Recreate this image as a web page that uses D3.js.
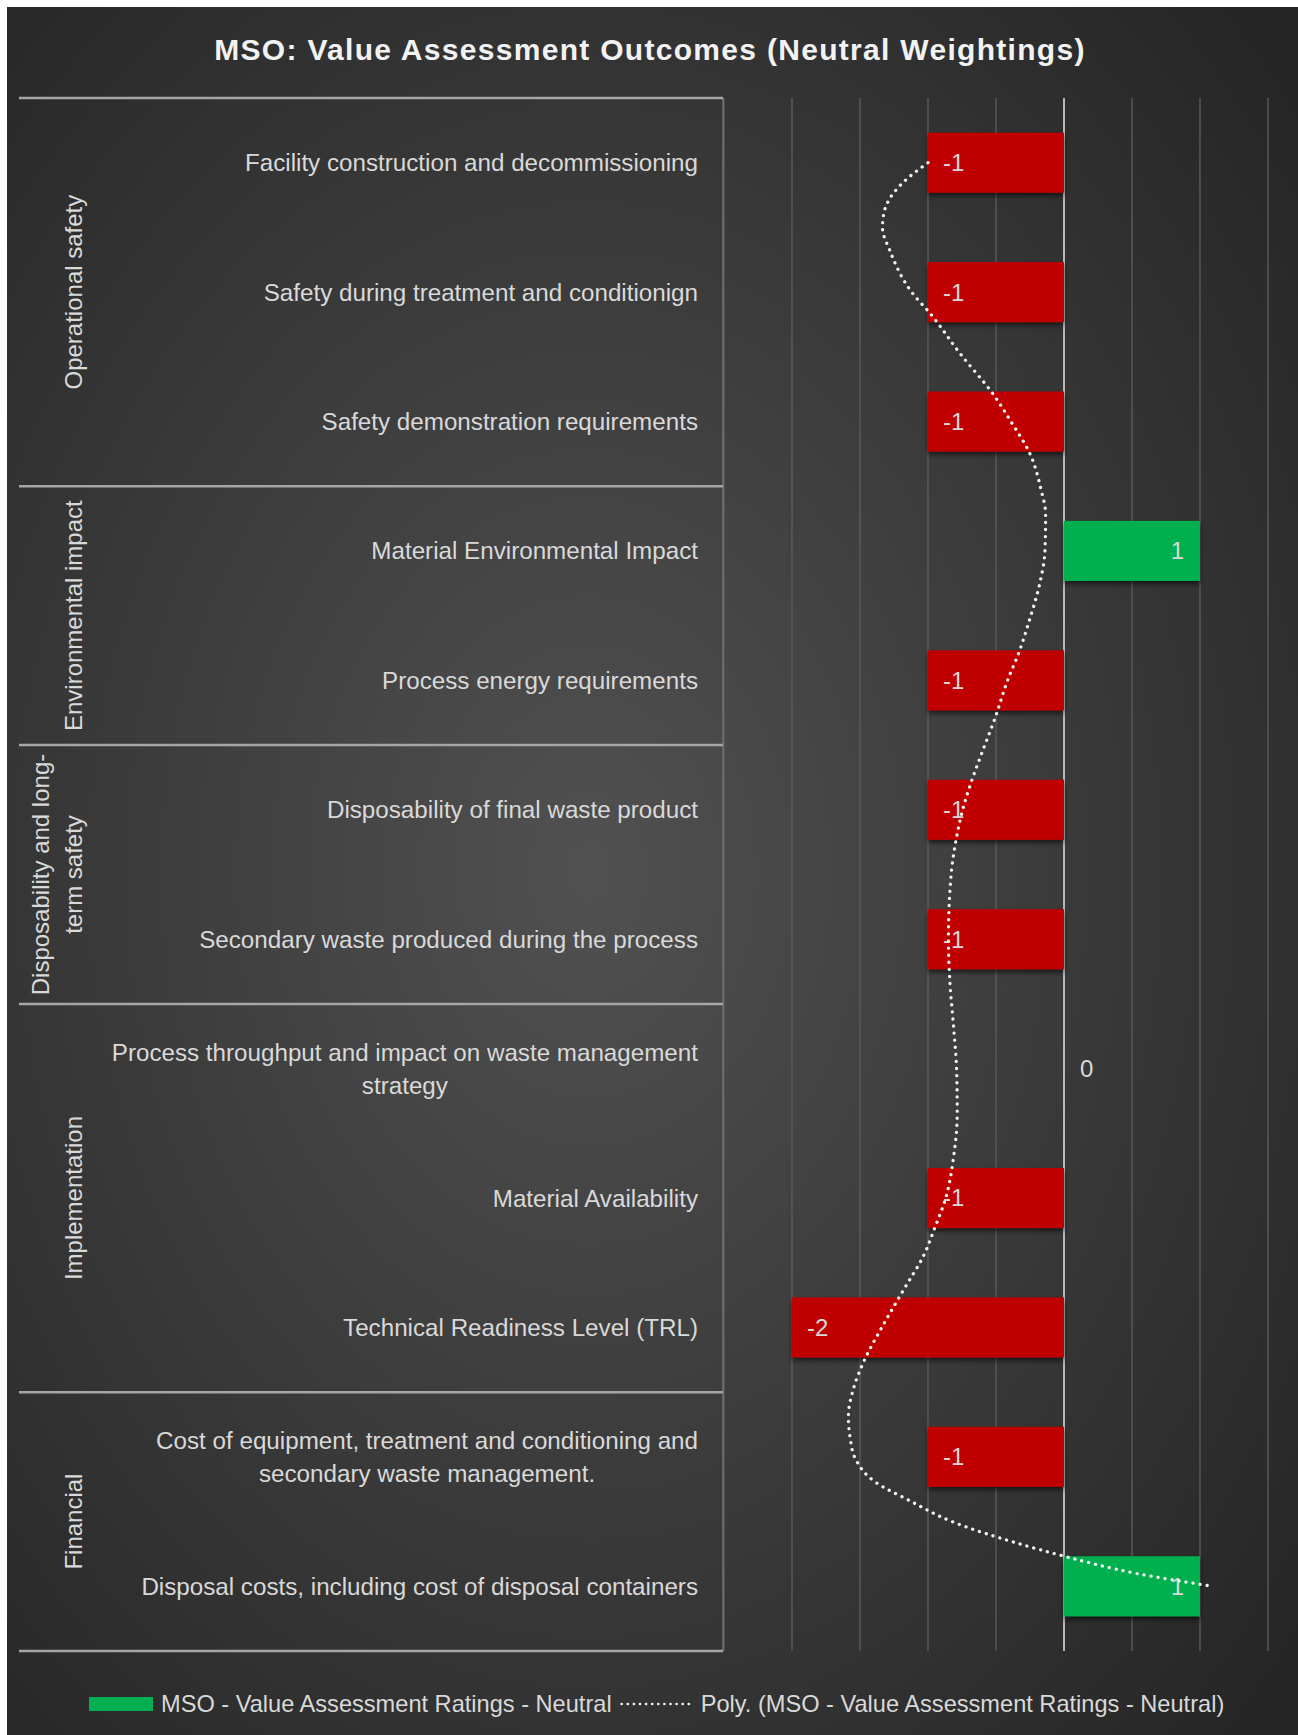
<!DOCTYPE html>
<html>
<head>
<meta charset="utf-8">
<script src="https://cdn.jsdelivr.net/npm/d3@7"></script>
<style>
  body { margin: 0; background: #fff; }
  svg { display: block; }
  text { font-family: "Liberation Sans", Arial, sans-serif; }
</style>
</head>
<body>
<div id="chart"></div>
<script>
// ---- data ----
const categories = [
  "Facility construction and decommissioning",
  "Safety during treatment and conditionign",
  "Safety demonstration requirements",
  "Material Environmental Impact",
  "Process energy requirements",
  "Disposability of final waste product",
  "Secondary waste produced during the process",
  "Process throughput and impact on waste management strategy",
  "Material Availability",
  "Technical Readiness Level (TRL)",
  "Cost of equipment, treatment and conditioning and secondary waste management.",
  "Disposal costs, including cost of disposal containers"
];
const categoryLines = [
  ["Facility construction and decommissioning"],
  ["Safety during treatment and conditionign"],
  ["Safety demonstration requirements"],
  ["Material Environmental Impact"],
  ["Process energy requirements"],
  ["Disposability of final waste product"],
  ["Secondary waste produced during the process"],
  ["Process throughput and impact on waste management", "strategy"],
  ["Material Availability"],
  ["Technical Readiness Level (TRL)"],
  ["Cost of equipment, treatment and conditioning and", "secondary waste management."],
  ["Disposal costs, including cost of disposal containers"]
];
const values = [-1, -1, -1, 1, -1, -1, -1, 0, -1, -2, -1, 1];

const groupLines = [
  ["Operational safety"],
  ["Environmental impact"],
  ["Disposability and long-", "term safety"],
  ["Implementation"],
  ["Financial"]
];
const groupSizes = [3, 2, 2, 3, 2];

const xTicks = [-2.5, -2, -1.5, -1, -0.5, 0, 0.5, 1, 1.5];

// polynomial trendline (position in category units, value)
const trendPos = [0, 0.17, 0.37, 0.5, 0.68, 1, 1.17, 1.48, 1.79, 2, 2.25, 2.52, 2.72, 3,
  3.26, 3.52, 3.78, 4, 4.3, 4.55, 4.81, 5, 5.27, 5.5, 6, 6.31, 6.7, 7, 7.34, 7.67, 8,
  8.23, 8.44, 8.71, 9, 9.27, 9.48, 9.68, 9.87, 10, 10.2, 10.33, 10.51, 10.665, 10.77, 10.9, 11];
const trendVal = [-1, -1.2, -1.32, -1.335, -1.28, -1.12, -0.98, -0.76, -0.52, -0.39, -0.25, -0.17, -0.135, -0.14,
  -0.18, -0.25, -0.33, -0.415, -0.51, -0.6, -0.69, -0.745, -0.8, -0.83, -0.85, -0.84, -0.81, -0.79, -0.785, -0.81, -0.87,
  -0.95, -1.03, -1.18, -1.34, -1.475, -1.55, -1.585, -1.57, -1.54, -1.38, -1.15, -0.8, -0.35, 0.01, 0.53, 1.09];

const seriesName = "MSO - Value Assessment Ratings - Neutral";
const trendName = "Poly. (MSO - Value Assessment Ratings - Neutral)";

// ---- layout ----
const width = 1298;
const height = 1735;
const TOP = 98, BOTTOM = 1651;
const PANEL_LEFT = 19, PANEL_RIGHT = 723;
const LABEL_RIGHT = 698;
const LABEL_SIZE = 24.2;

const svg = d3.select("#chart")
    .append("svg")
    .attr("width", width)
    .attr("height", height);

const defs = svg.append("defs");
const bg = defs.append("radialGradient")
    .attr("id", "bg")
    .attr("cx", "45%").attr("cy", "50%").attr("r", "70%");
bg.append("stop").attr("offset", "0%").attr("stop-color", "#515151");
bg.append("stop").attr("offset", "100%").attr("stop-color", "#262626");

const shadow = defs.append("filter")
    .attr("id", "shadow")
    .attr("x", "-10%").attr("y", "-20%").attr("width", "120%").attr("height", "160%");
shadow.append("feDropShadow")
    .attr("dx", 0).attr("dy", 3).attr("stdDeviation", 2.5)
    .attr("flood-color", "#000").attr("flood-opacity", 0.6);

// chart background
svg.append("rect")
    .attr("x", 7).attr("y", 7)
    .attr("width", width - 7).attr("height", height - 7)
    .attr("fill", "url(#bg)");

// title
svg.append("text")
    .attr("x", 650)
    .attr("y", 60)
    .attr("text-anchor", "middle")
    .attr("fill", "#f2f2f2")
    .attr("font-size", 30)
    .attr("font-weight", "bold")
    .attr("letter-spacing", 1.3)
    .text("MSO: Value Assessment Outcomes (Neutral Weightings)");

const x = d3.scaleLinear()
    .domain([-2.5, 1.5])
    .range([724, 1268]);

const y = d3.scaleBand()
    .domain(categories)
    .range([TOP, BOTTOM])
    .paddingInner(0.536)
    .paddingOuter(0.268);

const step = y.step();

// gridlines
svg.append("g")
    .selectAll("line")
    .data(xTicks)
    .enter()
    .append("line")
    .attr("x1", d => x(d)).attr("x2", d => x(d))
    .attr("y1", TOP).attr("y2", BOTTOM)
    .attr("stroke", d => d === 0 ? "#b8b8b8" : "#5e5e5e")
    .attr("stroke-width", d => d === 0 ? 2 : 1.3);

// category panel: vertical separator + group lines
svg.append("line")
    .attr("x1", PANEL_RIGHT).attr("x2", PANEL_RIGHT)
    .attr("y1", TOP).attr("y2", BOTTOM)
    .attr("stroke", "#7a7a7a")
    .attr("stroke-width", 1.3);

const bounds = [0].concat(Array.from(d3.cumsum(groupSizes)));
svg.append("g")
    .selectAll("line")
    .data(bounds)
    .enter()
    .append("line")
    .attr("x1", PANEL_LEFT).attr("x2", PANEL_RIGHT)
    .attr("y1", d => TOP + d * step).attr("y2", d => TOP + d * step)
    .attr("stroke", "#a6a6a6")
    .attr("stroke-width", 2.5);

// group labels (rotated)
const groups = svg.append("g")
    .selectAll("g")
    .data(groupLines)
    .enter()
    .append("g")
    .attr("transform", (d, i) => {
      const cy = TOP + step * (bounds[i] + groupSizes[i] / 2);
      return `translate(74, ${cy}) rotate(-90)`;
    });

groups.selectAll("text")
    .data(d => d.map((t, k) => ({t, k, n: d.length})))
    .enter()
    .append("text")
    .attr("x", 0)
    .attr("y", d => -(d.n - 1 - d.k) * 33)
    .attr("dy", "0.35em")
    .attr("text-anchor", "middle")
    .attr("fill", "#d9d9d9")
    .attr("font-size", 24)
    .text(d => d.t);

// category labels
const catLabels = svg.append("g")
    .selectAll("g")
    .data(categories)
    .enter()
    .append("g");

catLabels.each(function(c, i) {
  const g = d3.select(this);
  const lines = categoryLines[i];
  const cy = y(c) + y.bandwidth() / 2;
  const texts = g.selectAll("text")
      .data(lines)
      .enter()
      .append("text")
      .attr("fill", "#d9d9d9")
      .attr("font-size", LABEL_SIZE)
      .attr("dy", "0.35em")
      .attr("y", (d, k) => cy + (k - (lines.length - 1) / 2) * 33)
      .text(d => d);
  if (lines.length === 1) {
    texts.attr("x", LABEL_RIGHT).attr("text-anchor", "end");
  } else {
    let maxW = 0;
    texts.each(function() { maxW = Math.max(maxW, this.getComputedTextLength()); });
    texts.attr("x", LABEL_RIGHT - maxW / 2).attr("text-anchor", "middle");
  }
});

// bars
svg.append("g")
    .selectAll("rect")
    .data(values)
    .enter()
    .append("rect")
    .attr("x", d => x(Math.min(0, d)))
    .attr("y", (d, i) => y(categories[i]))
    .attr("width", d => Math.abs(x(d) - x(0)))
    .attr("height", y.bandwidth())
    .attr("fill", d => d < 0 ? "#c00000" : "#00b050")
    .attr("filter", "url(#shadow)");

// data labels (inside end)
svg.append("g")
    .selectAll("text")
    .data(values)
    .enter()
    .append("text")
    .attr("x", d => d < 0 ? x(d) + 15 : (d > 0 ? x(d) - 16 : x(0) + 16))
    .attr("y", (d, i) => y(categories[i]) + y.bandwidth() / 2)
    .attr("dy", "0.35em")
    .attr("text-anchor", d => d > 0 ? "end" : "start")
    .attr("fill", "#d9d9d9")
    .attr("font-size", 24)
    .text(d => d);

// trendline
const trendY = p => TOP + step * (p + 0.5);
const trendLine = d3.line()
    .x((d, i) => x(trendVal[i]))
    .y(d => trendY(d))
    .curve(d3.curveMonotoneY);

svg.append("path")
    .datum(trendPos)
    .attr("d", trendLine)
    .attr("fill", "none")
    .attr("stroke", "#f2f2f2")
    .attr("stroke-width", 3.3)
    .attr("stroke-linecap", "round")
    .attr("stroke-dasharray", "0.1 7");

// legend
const LEG_Y = 1704;
const LEG_SIZE = 23.6;
const legend = svg.append("g");
legend.append("rect")
    .attr("x", 89).attr("y", LEG_Y - 7)
    .attr("width", 64).attr("height", 14)
    .attr("fill", "#00b050");
const t1 = legend.append("text")
    .attr("x", 161).attr("y", LEG_Y)
    .attr("dy", "0.35em")
    .attr("fill", "#d9d9d9")
    .attr("font-size", LEG_SIZE)
    .text(seriesName);
const t1End = 161 + t1.node().getComputedTextLength();
legend.append("line")
    .attr("x1", t1End + 10).attr("x2", t1End + 80)
    .attr("y1", LEG_Y).attr("y2", LEG_Y)
    .attr("stroke", "#f2f2f2")
    .attr("stroke-width", 2.6)
    .attr("stroke-linecap", "round")
    .attr("stroke-dasharray", "0.1 6");
legend.append("text")
    .attr("x", t1End + 89).attr("y", LEG_Y)
    .attr("dy", "0.35em")
    .attr("fill", "#d9d9d9")
    .attr("font-size", LEG_SIZE)
    .text(trendName);
</script>
</body>
</html>
